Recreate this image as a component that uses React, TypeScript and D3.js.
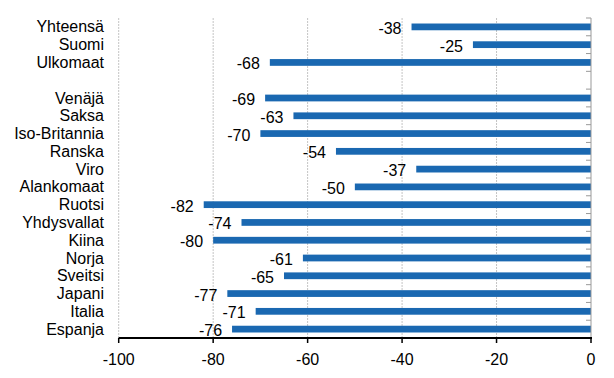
import React from "react";
import * as d3 from "d3";

const categories = ["Yhteensä", "Suomi", "Ulkomaat", "", "Venäjä", "Saksa", "Iso-Britannia", "Ranska", "Viro", "Alankomaat", "Ruotsi", "Yhdysvallat", "Kiina", "Norja", "Sveitsi", "Japani", "Italia", "Espanja"];
const values: (number | null)[] = [-38, -25, -68, null, -69, -63, -70, -54, -37, -50, -82, -74, -80, -61, -65, -77, -71, -76];
const xTicks = [-100, -80, -60, -40, -20, 0];

const W = 614, H = 378;
const left = 118.7, right = 591, top = 18, bottom = 338;
const font = "'Liberation Sans', Arial, sans-serif";
const color = "#1a68b1";

export default function App() {
  const x = d3.scaleLinear().domain([-100, 0]).range([left, right]);
  const y = d3.scaleBand<string>().domain(categories.map((c, i) => i + "")).range([top, bottom]).paddingInner(0.62).paddingOuter(0.31);
  const slot = (bottom - top) / categories.length;
  return (
    <svg width={W} height={H} style={{ position: "absolute", left: 0, top: 0 }}>
      <rect width={W} height={H} fill="#fff" />
      {xTicks.filter(t => t !== 0).map(t => (
        <line key={t} x1={x(t)} x2={x(t)} y1={top} y2={bottom} stroke="#c4c4c4" strokeWidth={1} strokeDasharray="2,1" />
      ))}
      {values.map((v, i) => v === null ? null : (
        <rect key={i} x={x(v)} y={y(i + "")!} width={x(0) - x(v)} height={y.bandwidth()} fill={color} />
      ))}
      <line x1={right} x2={right} y1={top} y2={bottom} stroke="#999" strokeWidth={1} />
      {d3.range(categories.length + 1).map(i => (
        <line key={i} x1={right - 5} x2={right} y1={top + i * slot} y2={top + i * slot} stroke="#999" strokeWidth={1} />
      ))}
      <line x1={left} x2={right + 1} y1={bottom} y2={bottom} stroke="#000" strokeWidth={2} />
      {xTicks.map(t => (
        <g key={t}>
          <line x1={x(t)} x2={x(t)} y1={bottom} y2={bottom + 5} stroke="#000" strokeWidth={1.5} />
          <text x={x(t)} y={bottom + 27} textAnchor="middle" fontFamily={font} fontSize={16} fill="#000">{t}</text>
        </g>
      ))}
      {categories.map((c, i) => (
        <text key={i} x={104} y={y(i + "")! + y.bandwidth() / 2 + 5.5} textAnchor="end" fontFamily={font} fontSize={16} fill="#000">{c}</text>
      ))}
      {values.map((v, i) => v === null ? null : (
        <text key={i} x={x(v) - 10} y={y(i + "")! + y.bandwidth() / 2 + 7} textAnchor="end" fontFamily={font} fontSize={16} fill="#000">{v}</text>
      ))}
    </svg>
  );
}
